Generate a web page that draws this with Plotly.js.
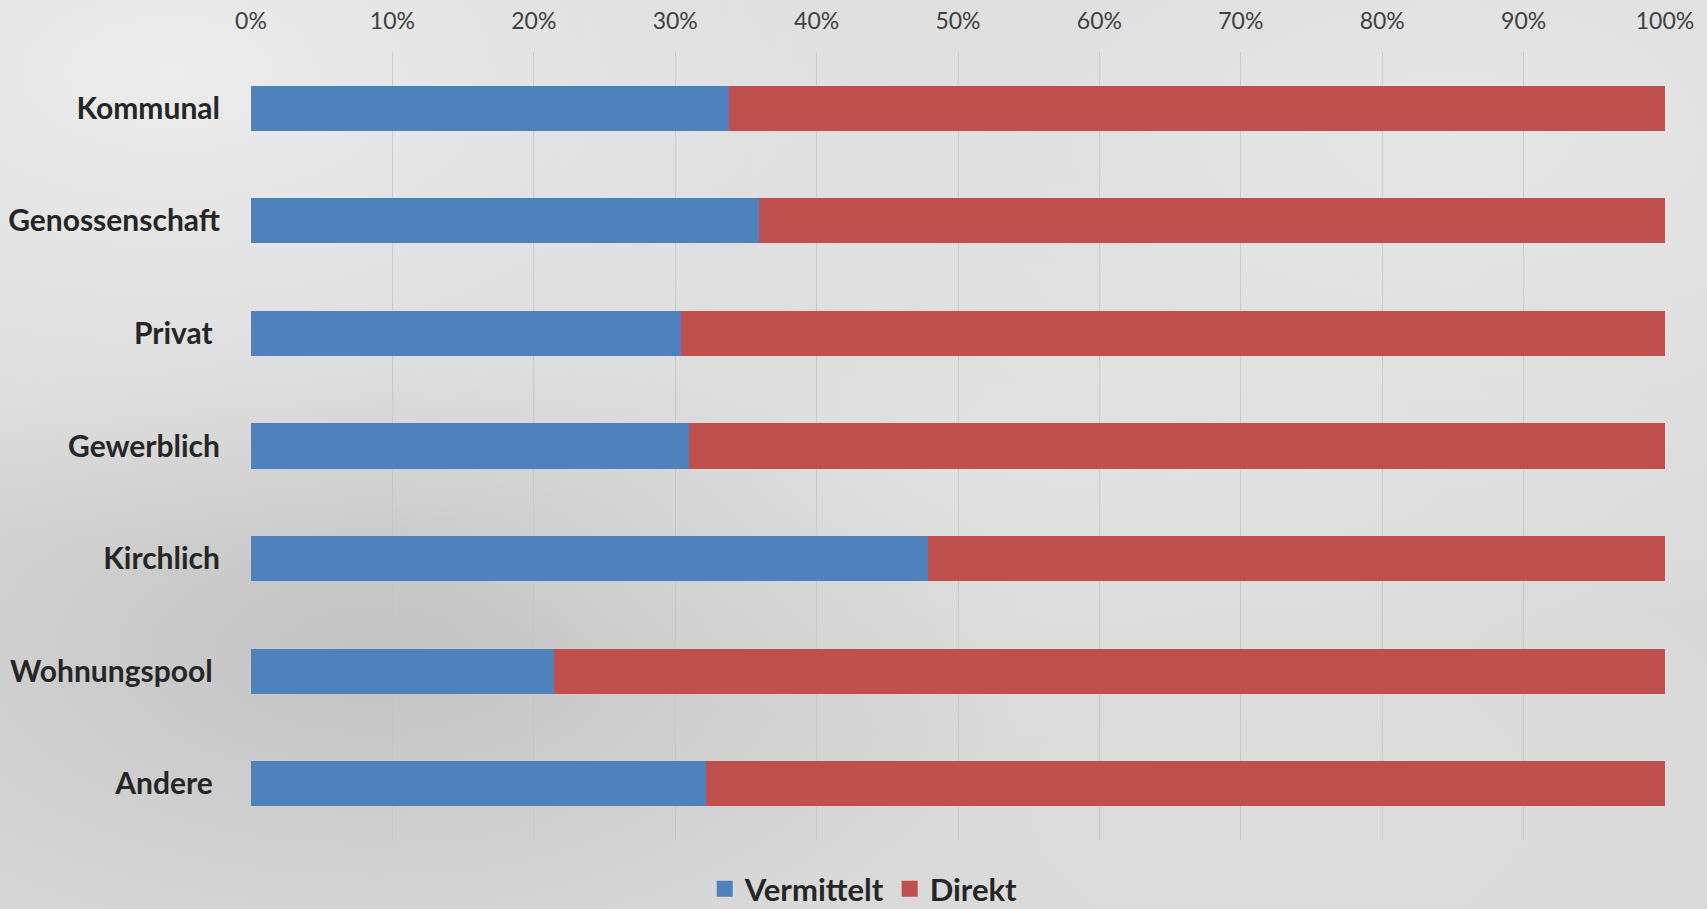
<!DOCTYPE html>
<html>
<head>
<meta charset="utf-8">
<script src="https://cdn.plot.ly/plotly-3.0.1.min.js"></script>
<style>
  html, body { margin: 0; padding: 0; width: 1707px; height: 909px; overflow: hidden; }
  body {
    background-color: #d8d8d8;
    background-image:
      radial-gradient(ellipse at 10% 8%, rgba(238,238,238,0.9) 0%, rgba(238,238,238,0) 40%),
      radial-gradient(ellipse at 85% 15%, rgba(234,234,234,0.8) 0%, rgba(234,234,234,0) 45%),
      radial-gradient(ellipse at 60% 50%, rgba(228,228,228,0.6) 0%, rgba(228,228,228,0) 45%),
      radial-gradient(ellipse at 22% 72%, rgba(175,175,175,0.5) 0%, rgba(175,175,175,0) 35%),
      radial-gradient(ellipse at 75% 88%, rgba(222,222,222,0.6) 0%, rgba(222,222,222,0) 45%);
  }
  #chart { width: 1707px; height: 909px; }
</style>
</head>
<body>
<div id="chart"></div>
<script>
const categories = ["Kommunal", "Genossenschaft", "Privat", "Gewerblich", "Kirchlich", "Wohnungspool", "Andere"];
const categoryLabels = ["Kommunal", "Genossenschaft", "Privat\u00a0", "Gewerblich", "Kirchlich", "Wohnungspool\u00a0", "Andere\u00a0"];
const seriesNames = ["Vermittelt", "Direkt"];
const vermittelt = [0.338, 0.359, 0.304, 0.310, 0.479, 0.214, 0.322];
const direkt = [0.662, 0.641, 0.696, 0.690, 0.521, 0.786, 0.678];
const xTickValues = [0, 0.1, 0.2, 0.3, 0.4, 0.5, 0.6, 0.7, 0.8, 0.9, 1.0];
const xTickLabels = ["0%", "10%", "20%", "30%", "40%", "50%", "60%", "70%", "80%", "90%", "100%"];

const FONT = "Lato, 'Open Sans', 'DejaVu Sans', sans-serif";
const COLORS = ["#4f81bd", "#c0504d"];

const data = [
  {
    type: "bar", orientation: "h", name: seriesNames[0],
    y: categories, x: vermittelt,
    marker: { color: COLORS[0] },
    showlegend: false
  },
  {
    type: "bar", orientation: "h", name: seriesNames[1],
    y: categories, x: direkt,
    marker: { color: COLORS[1] },
    showlegend: false
  },
  // legend entries with larger square keys
  {
    type: "scatter", mode: "markers", name: seriesNames[0],
    x: [null], y: [null],
    marker: { symbol: "square", size: 18, color: COLORS[0] },
    hoverinfo: "skip", showlegend: true
  },
  {
    type: "scatter", mode: "markers", name: seriesNames[1],
    x: [null], y: [null],
    marker: { symbol: "square", size: 18, color: COLORS[1] },
    hoverinfo: "skip", showlegend: true
  }
];

const layout = {
  width: 1707, height: 909,
  barmode: "stack",
  bargap: 0.6,
  paper_bgcolor: "rgba(0,0,0,0)",
  plot_bgcolor: "rgba(0,0,0,0)",
  margin: { l: 251, r: 42, t: 52, b: 69, pad: 0, autoexpand: false },
  font: { family: FONT, color: "#262626" },
  xaxis: {
    side: "top",
    range: [0, 1],
    tickvals: xTickValues,
    ticktext: xTickLabels,
    showgrid: true,
    gridcolor: "rgba(195,195,195,0.75)",
    gridwidth: 1,
    zeroline: false,
    showline: false,
    ticks: "",
    ticklabelstandoff: 17,
    tickfont: { family: FONT, size: 23, color: "#404040" },
    fixedrange: true
  },
  yaxis: {
    autorange: "reversed",
    type: "category",
    categoryarray: categories,
    tickvals: categories,
    ticktext: categoryLabels,
    showgrid: false,
    zeroline: false,
    showline: false,
    ticks: "",
    ticklabelstandoff: 30,
    tickfont: { family: FONT, size: 30, color: "#262626", weight: "bold" },
    fixedrange: true
  },
  legend: {
    orientation: "h",
    traceorder: "normal",
    xref: "container", yref: "container",
    x: 0.506, xanchor: "center",
    y: 0.022, yanchor: "middle",
    font: { family: FONT, size: 31, color: "#262626", weight: "bold" },
    itemwidth: 30,
    itemsizing: "trace",
    bgcolor: "rgba(0,0,0,0)"
  },
  showlegend: true
};

Plotly.newPlot("chart", data, layout, { displayModeBar: false, staticPlot: true });
</script>
</body>
</html>
